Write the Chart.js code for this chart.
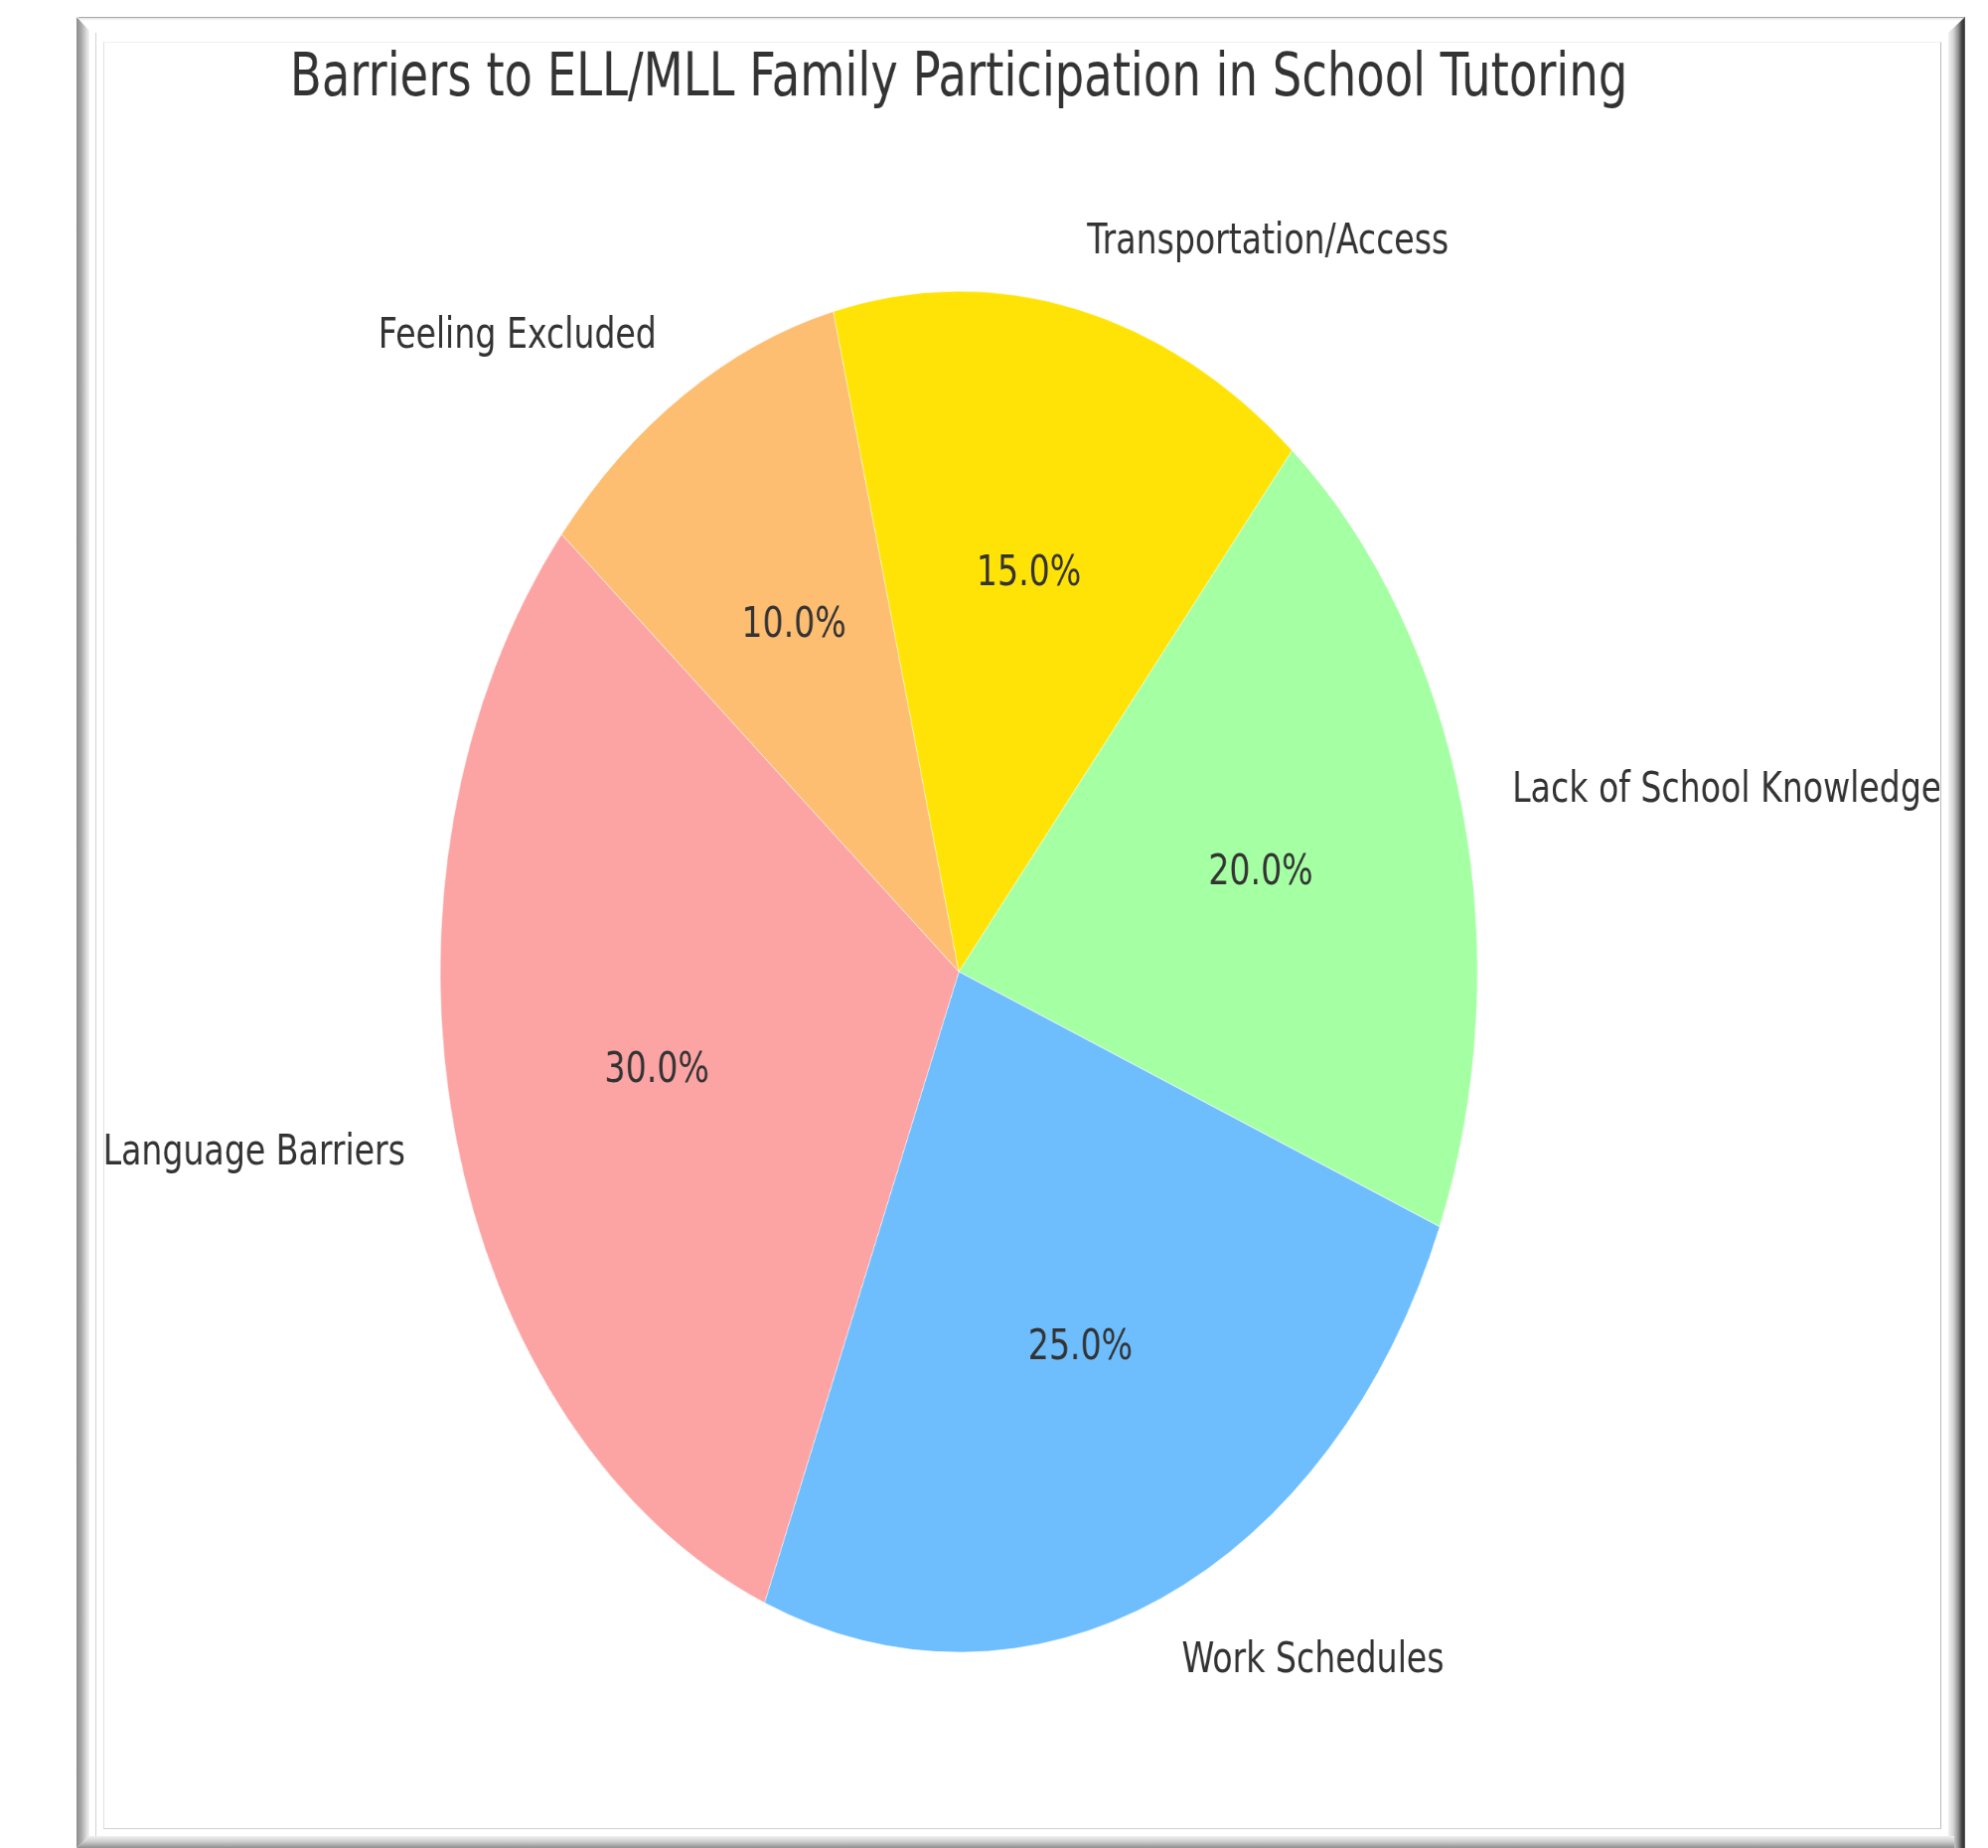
<!DOCTYPE html>
<html>
<head>
<meta charset="utf-8">
<script src="https://cdn.jsdelivr.net/npm/chart.js@4"></script>
<style>
  body { margin: 0; background: #fff; width: 2001px; height: 1860px; overflow: hidden; position: relative; }
  #clip { position: absolute; left: 105px; top: 42px; width: 1847px; height: 1797px; overflow: hidden; }
  #pie { position: absolute; left: -105px; top: -42px; transform: scaleX(0.762); transform-origin: 0 0; }
  .f { position: absolute; }
</style>
</head>
<body>
<div id="clip"><canvas id="pie" width="2626" height="1860" style="width:2626px;height:1860px"></canvas></div>

<!-- frame -->
<div class="f" style="left:79px;top:17px;width:1899px;height:1px;background:#a8a8a8"></div>
<div class="f" style="left:79px;top:18px;width:1899px;height:3px;background:linear-gradient(#e4e4e4,#fff)"></div>
<div class="f" style="left:77px;top:17px;width:13px;height:1843px;background:linear-gradient(to right,#8c8c8c,#a8a8a8 35%,#d8d8d8 75%,#f4f4f4);clip-path:polygon(0 0,100% 14px,100% calc(100% - 12px),0 100%)"></div>
<div class="f" style="left:1961px;top:17px;width:17px;height:1843px;background:linear-gradient(to right,#f2f2f2,#d4d4d4 30%,#8e8e8e 60%,#444 80%,#333 95%,#888);clip-path:polygon(0 16px,100% 0,100% 100%,0 100%)"></div>
<div class="f" style="left:77px;top:1848px;width:1890px;height:12px;background:linear-gradient(#f0f0f0,#cfcfcf 45%,#8f8f8f);clip-path:polygon(13px 0,100% 0,100% 100%,0 100%)"></div>
<div class="f" style="left:96px;top:33px;width:1px;height:1815px;background:#d2d2d2"></div>
<div class="f" style="left:104px;top:42px;width:1848px;height:1797px;border:1px solid #e0e0e0;border-right-color:#bcbcbc;border-bottom-color:#d0d0d0;border-top-color:#f0f0f0"></div>

<script>
const categories = ['Language Barriers', 'Work Schedules', 'Lack of School Knowledge', 'Transportation/Access', 'Feeling Excluded'];
const shares = [30, 25, 20, 15, 10];
const sliceColors = ['#FCA4A4', '#6EBEFE', '#A5FFA3', '#FFE307', '#FDBE72'];

// matplotlib went counter-clockwise, Chart.js goes clockwise -> reverse
const labels = categories.slice().reverse();
const values = shares.slice().reverse();
const colors = sliceColors.slice().reverse();

const pieText = {
  id: 'pieText',
  afterDatasetsDraw(chart) {
    const ctx = chart.ctx;
    const meta = chart.getDatasetMeta(0);
    const data = chart.data.datasets[0].data;
    const total = data.reduce((a, b) => a + b, 0);
    ctx.save();
    ctx.fillStyle = '#333333';
    ctx.textBaseline = 'middle';
    ctx.font = '43.5px "DejaVu Sans"';
    meta.data.forEach((arc, i) => {
      const mid = (arc.startAngle + arc.endAngle) / 2;
      const r = arc.outerRadius;
      const cos = Math.cos(mid), sin = Math.sin(mid);
      // percentage inside
      ctx.textAlign = 'center';
      ctx.fillText((data[i] / total * 100).toFixed(1) + '%', arc.x + 0.6 * r * cos, arc.y + 0.6 * r * sin);
      // category outside
      ctx.textAlign = cos >= 0 ? 'left' : 'right';
      ctx.fillText(chart.data.labels[i], arc.x + 1.1 * r * cos, arc.y + 1.1 * r * sin);
    });
    ctx.restore();
  }
};

new Chart(document.getElementById('pie'), {
  type: 'pie',
  data: {
    labels: labels,
    datasets: [{
      data: values,
      backgroundColor: colors,
      borderColor: 'rgba(255,255,255,0.6)',
      borderWidth: 1,
      radius: 685
    }]
  },
  options: {
    responsive: false,
    devicePixelRatio: 1,
    animation: false,
    rotation: -50,
    layout: { padding: { left: 0, right: 93, top: 0, bottom: 25 } },
    plugins: {
      legend: { display: false },
      tooltip: { enabled: false },
      title: {
        display: true,
        text: 'Barriers to ELL/MLL Family Participation in School Tutoring',
        color: '#333333',
        font: { family: 'DejaVu Sans', size: 61, weight: 'normal', lineHeight: 1.2 },
        padding: { top: 44, bottom: 4 }
      }
    }
  },
  plugins: [pieText]
});
</script>
</body>
</html>
